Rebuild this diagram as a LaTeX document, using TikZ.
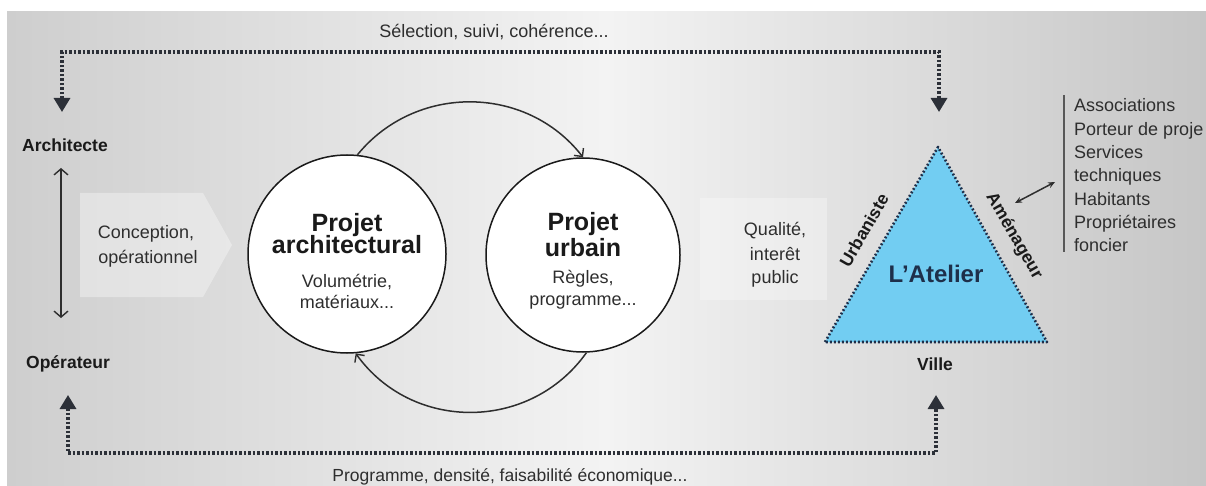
\documentclass[tikz,border=0pt]{standalone}
\usepackage{fontspec}
\setmainfont{Liberation Sans}
\usetikzlibrary{arrows.meta}
\definecolor{ink}{HTML}{2E2E2E}
\definecolor{dark}{HTML}{1A1A1A}
\definecolor{dotc}{HTML}{2C3038}
\definecolor{trifill}{HTML}{72CDF2}
\definecolor{navy}{HTML}{1E2F4A}
\definecolor{bgL}{HTML}{CECECE}
\definecolor{bgM}{HTML}{F3F3F3}
\definecolor{bgR}{HTML}{C6C6C6}
\tikzset{
  lbl/.style={font=\fontsize{18}{22}\selectfont, text=ink, inner sep=0pt, anchor=base},
  side/.style={font=\fontsize{17.5}{21}\selectfont\bfseries, text=dark, inner sep=0pt, anchor=base},
  ttl/.style={font=\fontsize{25}{28}\selectfont\bfseries, text=dark, inner sep=0pt, anchor=base},
  circ/.style={circle, draw=dark, line width=1.5pt, fill=white, inner sep=0pt},
  dotln/.style={draw=dotc, line width=3.2pt, dash pattern=on 2.4pt off 2.1pt,
     {Triangle[width=16pt,length=14pt,fill=dotc]}-{Triangle[width=16pt,length=14pt,fill=dotc]}},
  arcln/.style={draw=ink, line width=1.5pt, -{Straight Barb[length=6pt,width=12pt,line width=1.4pt]}},
}
\begin{document}
\begin{tikzpicture}[x=1pt,y=-1pt]
\useasboundingbox (0,0) rectangle (1206,486);
\fill[white] (0,0) rectangle (1206,486);
\shade[left color=bgL, right color=bgR, middle color=bgM] (7,12) rectangle (1206,486);

% light panels
\fill[white, opacity=.35] (80,193) -- (203,193) -- (232,245) -- (203,297) -- (80,297) -- cycle;
\fill[white, opacity=.3] (700,198) rectangle (827,300);

% top and bottom dotted connectors
\coordinate (tl) at (62,112);
\coordinate (tr) at (939,112);
\coordinate (bl) at (68,395);
\coordinate (br) at (936,395);
\draw[dotln] (tl) -- (62,52) -- (939,52) -- (tr);
\draw[dotln] (bl) -- (68,453) -- (936,453) -- (br);
\node[lbl] (sel) at (494,38) {Sélection, suivi, cohérence...};
\node[lbl, font=\fontsize{17.5}{21}\selectfont] (prog) at (510,481) {Programme, densité, faisabilité économique...};

% left side
\node[side] (arch) at (65,152) {Architecte};
\node[side] (oper) at (68,368) {Opérateur};
\coordinate (v1) at (61,168);
\coordinate (v2) at (61,318);
\draw[ink, line width=1.5pt, {Straight Barb[length=6pt,width=14pt,line width=1.4pt]}-{Straight Barb[length=6pt,width=14pt,line width=1.4pt]}] (v1) -- (v2);
\node[lbl] (con1) at (146,238) {Conception,};
\node[lbl] (con2) at (148,263) {opérationnel};

% circles
\node[circ, minimum size=198pt] (pa) at (347,254) {};
\node[circ, minimum size=194pt] (pu) at (583,255) {};
\draw[arcln] (pa.84) .. controls (415,84) and (526,84) .. (pu.90);
\draw[arcln] (pu.-88) .. controls (530,432) and (412,432) .. (pa.-85);

\node[ttl] (pa1) at (347,232) {Projet};
\node[ttl] (pa2) at (347,254) {architectural};
\node[lbl] (pa3) at (347,287) {Volumétrie,};
\node[lbl] (pa4) at (347,308) {matériaux...};

\node[ttl] (pu1) at (583,231) {Projet};
\node[ttl] (pu2) at (583,256) {urbain};
\node[lbl] (pu3) at (583,283) {Règles,};
\node[lbl] (pu4) at (583,305) {programme...};

\node[lbl] (q1) at (775,236) {Qualité,};
\node[lbl] (q2) at (775,260) {interêt};
\node[lbl] (q3) at (775,283) {public};

% triangle
\fill[trifill] (825,342) -- (938,147) -- (1047,342) -- cycle;
\draw[draw=navy, line width=2.6pt, dash pattern=on 1.8pt off 2.2pt, line join=round] (825,342) -- (938,147) -- (1047,342) -- cycle;
\node[ttl, font=\fontsize{24}{28}\selectfont\bfseries, text=navy] (atel) at (936,282) {L’Atelier};
\node[side, anchor=center, rotate=60] (urb) at (864,230) {Urbaniste};
\node[side, anchor=center, rotate=-60] (amen) at (1014,236) {Aménageur};
\node[side] (ville) at (935,370) {Ville};

% partners
\coordinate (d1) at (1015,203);
\coordinate (d2) at (1055,182);
\draw[ink, line width=1.5pt, {Stealth[length=7pt,width=6pt]}-{Stealth[length=7pt,width=6pt]}] (d1) -- (d2);
\coordinate (lt) at (1064,95);
\coordinate (lb) at (1064,252);
\draw[ink!80, line width=1.6pt] (lt) -- (lb);
\node[lbl, anchor=base west] (l1) at (1074,112) {Associations};
\node[lbl, anchor=base west] (l2) at (1074,135.3) {Porteur de proje};
\node[lbl, anchor=base west] (l3) at (1074,158.6) {Services};
\node[lbl, anchor=base west] (l4) at (1074,181.9) {techniques};
\node[lbl, anchor=base west] (l5) at (1074,205.2) {Habitants};
\node[lbl, anchor=base west] (l6) at (1074,228.5) {Propriétaires};
\node[lbl, anchor=base west] (l7) at (1074,251.8) {foncier};
\end{tikzpicture}
\end{document}
